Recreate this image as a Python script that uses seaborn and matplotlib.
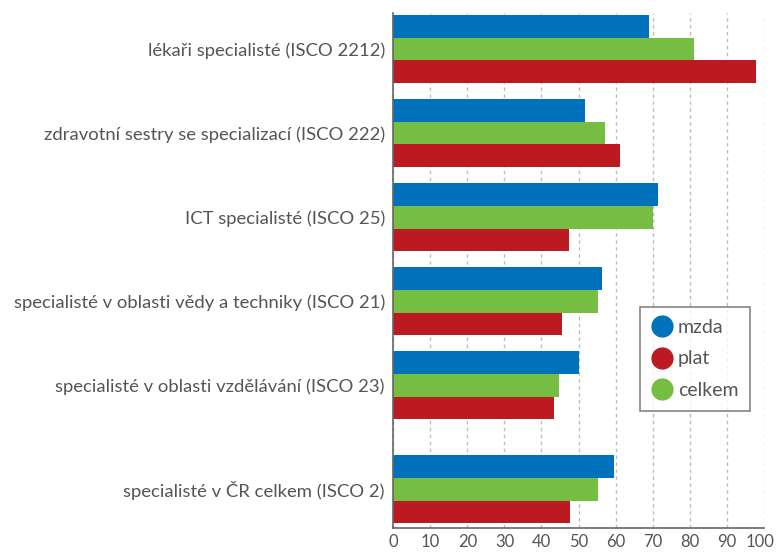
import pandas as pd
import matplotlib
matplotlib.use('Agg')
import matplotlib.pyplot as plt
import matplotlib.transforms as mtransforms
from matplotlib.lines import Line2D
import seaborn as sns

# Categories (top to bottom) and their y positions (last group set apart)
categories = [
    'lékaři specialisté (ISCO 2212)',
    'zdravotní sestry se specializací (ISCO 222)',
    'ICT specialisté (ISCO 25)',
    'specialisté v oblasti vědy a techniky (ISCO 21)',
    'specialisté v oblasti vzdělávání (ISCO 23)',
    'specialisté v ČR celkem (ISCO 2)',
]
positions = [0, 1, 2, 3, 4, 5.24]

mzda = [69.0, 51.7, 71.5, 56.3, 50.1, 59.6]
celkem = [81.2, 57.1, 70.1, 55.2, 44.7, 55.2]
plat = [97.9, 61.2, 47.4, 45.5, 43.4, 47.7]

x_ticks = [0, 10, 20, 30, 40, 50, 60, 70, 80, 90, 100]

colors = {'mzda': '#0072BB', 'celkem': '#76BE43', 'plat': '#BC1A20'}
text_color = '#555555'

# long form table for seaborn
df = pd.DataFrame({
    'pos': positions * 3,
    'value': mzda + celkem + plat,
    'typ': ['mzda'] * 6 + ['celkem'] * 6 + ['plat'] * 6,
})

sns.set_style('white')
plt.rcParams['font.family'] = ['Lato', 'DejaVu Sans']

fig = plt.figure(figsize=(7.77, 5.54), dpi=100)
ax = fig.add_axes([0.5062, 0.0469, 0.4767, 0.9296])

sns.barplot(data=df, x='value', y='pos', hue='typ', orient='h',
            hue_order=['mzda', 'celkem', 'plat'], palette=colors,
            native_scale=True, width=0.81, errorbar=None, saturation=1,
            linewidth=0, legend=False, ax=ax)

ax.set_xlim(0, 100)
ax.set_ylim(5.70, -0.43)
ax.set_xticks(x_ticks)
ax.set_xticklabels([str(t) for t in x_ticks], fontsize=12, color=text_color)
ax.set_yticks(positions)
ax.set_yticklabels(categories, fontsize=13.3, color=text_color)
ax.tick_params(axis='both', length=0)
ax.tick_params(axis='y', pad=6)
ax.tick_params(axis='x', pad=4)
ax.set_xlabel('')
ax.set_ylabel('')
# nudge "100" a little left so it stays inside the picture
last = ax.get_xticklabels()[-1]
last.set_transform(last.get_transform() +
                   mtransforms.ScaledTranslation(-3 / 72, 0, fig.dpi_scale_trans))

# vertical dashed grid
ax.xaxis.grid(True, linestyle=(0, (2.5, 2.5)), color='#bdbdbd', linewidth=1)
ax.yaxis.grid(False)
ax.set_axisbelow(True)

for side in ['top', 'right']:
    ax.spines[side].set_visible(False)
for side in ['left', 'bottom']:
    ax.spines[side].set_color('#666666')
    ax.spines[side].set_linewidth(1.2)

handles = [Line2D([], [], marker='o', linestyle='', markersize=15,
                  markerfacecolor=colors[k], markeredgecolor=colors[k], label=k)
           for k in ['mzda', 'plat', 'celkem']]
leg = ax.legend(handles=handles, loc='upper left', bbox_to_anchor=(0.666, 0.429),
                frameon=True, fancybox=False, fontsize=14, labelcolor=text_color,
                handletextpad=0.25, borderpad=0.6, labelspacing=0.75,
                handlelength=1.1, borderaxespad=0)
leg.get_frame().set_edgecolor('#666666')
leg.get_frame().set_linewidth(1.2)

fig.savefig('out.png', dpi=100)
